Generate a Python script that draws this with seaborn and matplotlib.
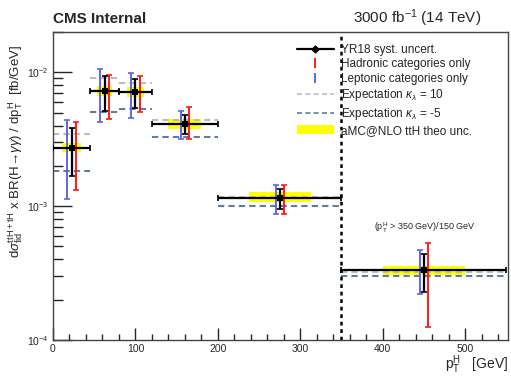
import numpy as np
import pandas as pd
import matplotlib
matplotlib.use("Agg")
import matplotlib.pyplot as plt
import seaborn as sns
from matplotlib.lines import Line2D
from matplotlib.patches import Patch, Rectangle

# ---------------- data ----------------
bin_lo = [0, 45, 80, 120, 200, 350]
bin_hi = [45, 80, 120, 200, 350, 550]
x_center = [22.5, 62.5, 100, 160, 275, 450]
yr18 = [2.73e-3, 7.30e-3, 7.14e-3, 4.12e-3, 1.155e-3, 3.31e-4]
yr18_up = [3.85e-3, 9.45e-3, 8.93e-3, 4.80e-3, 1.35e-3, 4.41e-4]
yr18_dn = [1.67e-3, 5.18e-3, 5.42e-3, 3.47e-3, 9.57e-4, 2.28e-4]
had_up = [4.24e-3, 9.50e-3, 9.45e-3, 5.48e-3, 1.44e-3, 5.30e-4]
had_dn = [1.32e-3, 4.49e-3, 5.03e-3, 3.15e-3, 8.67e-4, 1.25e-4]
lep_up = [4.43e-3, 1.05e-2, 9.90e-3, 5.10e-3, 1.44e-3, 4.72e-4]
lep_dn = [1.14e-3, 4.24e-3, 4.57e-3, 3.16e-3, 8.78e-4, 2.19e-4]
kl10 = [3.47e-3, 9.00e-3, 8.33e-3, 4.43e-3, 1.17e-3, 3.20e-4]
klm5 = [1.82e-3, 5.09e-3, 5.30e-3, 3.27e-3, 1.01e-3, 3.00e-4]
theo_up = [2.97e-3, 7.96e-3, 7.78e-3, 4.49e-3, 1.27e-3, 3.60e-4]
theo_dn = [2.53e-3, 6.70e-3, 6.55e-3, 3.78e-3, 1.07e-3, 3.07e-4]
legend_labels = ["YR18 syst. uncert.", "Hadronic categories only",
                 "Leptonic categories only",
                 r"Expectation $\kappa_{\lambda}$ = 10",
                 r"Expectation $\kappa_{\lambda}$ = -5",
                 "aMC@NLO ttH theo unc."]

df = pd.DataFrame({"x": x_center, "y": yr18, "lo": bin_lo, "hi": bin_hi,
                   "up": yr18_up, "dn": yr18_dn})

# ---------------- style ----------------
sns.set_theme(style="ticks")
plt.rcParams["font.family"] = ["Liberation Sans", "DejaVu Sans"]
plt.rcParams["mathtext.fontset"] = "custom"
plt.rcParams["mathtext.rm"] = "Liberation Sans"
plt.rcParams["mathtext.it"] = "Liberation Sans:italic"
plt.rcParams["mathtext.bf"] = "Liberation Sans:bold"
plt.rcParams["mathtext.sf"] = "Liberation Sans"

W, H = 511, 376
fig = plt.figure(figsize=(W / 100, H / 100), dpi=100)
ax = fig.add_axes([53 / W, 36 / H, 455 / W, 308 / H])

RED = "#ff1a1a"
BLUE = "#6464e6"
GRAY = "#bdbdbd"
SLATE = "#5f7d9c"
YELLOW = "#ffff00"

x = np.array(x_center, dtype=float)
lo = np.array(bin_lo, dtype=float)
hi = np.array(bin_hi, dtype=float)
y = np.array(yr18)

# theory boxes
for xi, l, h, tu, td in zip(x, lo, hi, theo_up, theo_dn):
    w = 0.5 * (h - l)
    ax.add_patch(Rectangle((xi - w / 2, td), w, tu - td, facecolor=YELLOW,
                           edgecolor="none", zorder=1))

# expectation dashed lines
ax.hlines(kl10, lo, hi, colors=GRAY, linestyles=(0, (3, 2)), lw=1.5, zorder=2)
ax.hlines(klm5, lo, hi, colors=SLATE, linestyles=(0, (3, 2)), lw=1.5, zorder=2)

# vertical dotted separator
ax.axvline(350, color="black", ls=(0, (1.5, 1.5)), lw=1.8, zorder=2)

# hadronic / leptonic error bars
off = 5
ax.errorbar(x + off, y, yerr=[y - np.array(had_dn), np.array(had_up) - y],
            fmt="none", ecolor=RED, elinewidth=1.4, capsize=2, capthick=1.2, zorder=3)
ax.errorbar(x - off, y, yerr=[y - np.array(lep_dn), np.array(lep_up) - y],
            fmt="none", ecolor=BLUE, elinewidth=1.4, capsize=2, capthick=1.2, zorder=3)

# black YR18
ax.errorbar(x, y, xerr=[x - lo, hi - x],
            yerr=[y - np.array(yr18_dn), np.array(yr18_up) - y],
            fmt="none", ecolor="black", elinewidth=1.6, capsize=2.2, capthick=1.2, zorder=4)
sns.scatterplot(data=df, x="x", y="y", ax=ax, marker="s", s=22, color="black",
                edgecolor="black", linewidth=0, zorder=5, legend=False)

ax.set_yscale("log")
ax.set_xlim(0, 552)
ax.set_ylim(1e-4, 2e-2)
ax.set_xlabel("")
ax.set_ylabel("")

ax.xaxis.set_major_locator(matplotlib.ticker.MultipleLocator(100))
ax.xaxis.set_minor_locator(matplotlib.ticker.MultipleLocator(20))
ax.yaxis.set_major_locator(matplotlib.ticker.LogLocator(base=10, numticks=10))
ax.yaxis.set_minor_locator(matplotlib.ticker.LogLocator(base=10, subs=np.arange(2, 10), numticks=20))
ax.yaxis.set_minor_formatter(matplotlib.ticker.NullFormatter())
ax.tick_params(axis="x", which="major", direction="in", length=9, width=1, labelsize=7.5, pad=3)
ax.tick_params(axis="x", which="minor", direction="in", length=4.5, width=1)
ax.tick_params(axis="y", which="major", direction="in", length=14, width=1, labelsize=7.5, pad=3)
ax.tick_params(axis="y", which="minor", direction="in", length=7, width=1)
for s in ax.spines.values():
    s.set_linewidth(1.0)
    s.set_color("#444444")

# annotation
ax.text(451, 6.9e-4, r"(p$_{\mathrm{T}}^{\mathrm{H}}$ > 350 GeV)/150 GeV",
        fontsize=6.5, ha="center", va="center")

# legend
handles = [
    Line2D([0], [0], color="black", lw=1.6, marker="D", markersize=3.5),
    Line2D([0], [0], color=RED, lw=0, marker="|", markersize=7, markeredgewidth=1.4),
    Line2D([0], [0], color=BLUE, lw=0, marker="|", markersize=7, markeredgewidth=1.4),
    Line2D([0], [0], color=GRAY, lw=1.2, ls=(0, (3, 2))),
    Line2D([0], [0], color=SLATE, lw=1.2, ls=(0, (3, 2))),
    Patch(facecolor=YELLOW, edgecolor="none"),
]
leg = ax.legend(handles, legend_labels, loc="upper left",
                bbox_to_anchor=((297 - 53) / 455, 0.962), frameon=False,
                fontsize=8.5, handlelength=3.1, handletextpad=0.65,
                labelspacing=0.22, borderaxespad=0, borderpad=0)

# titles and axis labels
fig.text(53 / W, 1 - 23 / H, "CMS Internal", fontsize=11, fontweight="bold",
         ha="left", va="baseline")
fig.text(481 / W, 1 - 23 / H, r"3000 fb$^{-1}$ (14 TeV)", fontsize=11,
         ha="right", va="baseline")
fig.text(508 / W, 1 - 369 / H, r"p$_{\mathrm{T}}^{\mathrm{H}}$   [GeV]", fontsize=10,
         ha="right", va="baseline")
fig.text(16 / W, 1 - 45 / H,
         r"d$\sigma_{\mathrm{fid}}^{\mathrm{ttH+tH}}$ x BR(H→$\gamma\gamma$) / dp$_{\mathrm{T}}^{\mathrm{H}}$  [fb/GeV]",
         fontsize=9.5, rotation=90, ha="center", va="top")

fig.savefig("out.png", dpi=100)
